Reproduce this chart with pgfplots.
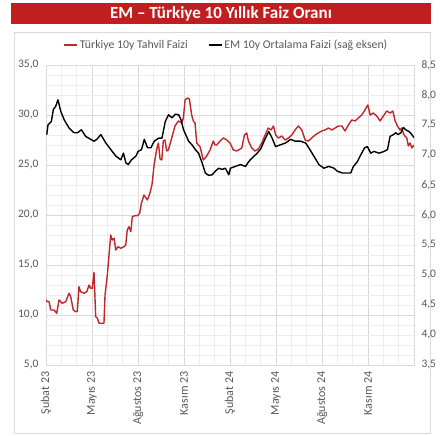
\documentclass[border=0pt]{standalone}
\usepackage{pgfplots}
\pgfplotsset{compat=1.18}
\usepackage{fontspec}
\setmainfont{Carlito}
\definecolor{emred}{HTML}{C0262B}
\definecolor{banner}{HTML}{C11F1F}
\definecolor{txtgray}{HTML}{595959}
\definecolor{gmaj}{HTML}{D9D9D9}
\definecolor{gmin}{HTML}{EDEDED}
\begin{document}
\begin{tikzpicture}[x=1pt,y=1pt]
\path[fill=white] (0,0) rectangle (443,435);
\fill[banner] (11,411) rectangle (431,432);
\node[text=white,font=\fontsize{17}{19}\selectfont\bfseries] at (221,421.5) {EM – Türkiye 10 Yıllık Faiz Oranı};
\draw[gmaj,line width=0.8pt] (14,1.5) rectangle (430,403);
\begin{axis}[
  at={(46pt,70pt)}, anchor=south west,
  scale only axis, width=368pt, height=300pt,
  xmin=0, xmax=24, ymin=5, ymax=35,
  xtick={0,3,...,21},
  xticklabels={Şubat 23,Mayıs 23,Ağustos 23,Kasım 23,Şubat 24,Mayıs 24,Ağustos 24,Kasım 24},
  minor xtick={0,1,...,24},
  ytick={5,10,...,35},
  minor ytick={5,6,...,35},
  grid=both,
  major grid style={gmaj,line width=0.8pt},
  minor grid style={gmin,line width=0.7pt},
  major tick length=0pt, minor tick length=0pt,
  axis line style={gmaj,line width=0.8pt},
  tick label style={text=txtgray,font=\fontsize{11.5}{13}\selectfont},
  x tick label style={rotate=90,anchor=east,font=\fontsize{12}{13}\selectfont},
  xticklabel shift=3pt,
  yticklabel shift=4pt,
  /pgf/number format/.cd, fixed, fixed zerofill, precision=1, use comma, assume math mode=true,
  /pgfplots/.cd,
  legend columns=2,
  legend style={draw=none,fill=none,at={(0.49,1.067)},anchor=center,
    font=\fontsize{11.8}{13}\selectfont,text=txtgray,
    /tikz/every even column/.append style={column sep=18pt}},
  legend image code/.code={\draw[#1,line width=1.6pt] (0pt,0pt) -- (13pt,0pt);},
]
\addplot[emred,line width=1.4pt,line join=round] table {
x y
0 11.5
0.08 11.33
0.2 11.33
0.31 10.5
0.52 10.5
0.70 10.17
0.85 11.5
1.06 11.17
1.29 11.33
1.50 12.17
1.61 11.83
1.78 10.5
1.94 10.33
2.04 10.33
2.15 12.83
2.26 12.33
2.48 12.17
2.66 12.33
2.81 13.0
2.92 12.67
3.02 12.67
3.13 14.27
3.18 12.33
3.24 9.83
3.35 9.67
3.46 9.17
3.67 9.17
3.78 9.17
3.85 12.0
4.0 14.0
4.11 16.0
4.22 18.0
4.32 17.5
4.44 17.67
4.55 16.5
4.70 16.83
4.87 16.67
5.09 16.83
5.20 17.0
5.30 18.5
5.41 18.83
5.53 18.33
5.63 19.83
5.79 19.93
5.96 19.93
6.11 20.17
6.22 21.17
6.39 22.0
6.61 21.5
6.78 22.2
6.91 23.0
7.05 25.0
7.22 26.6
7.33 27.2
7.44 25.6
7.55 25.5
7.65 27.4
7.76 27.5
7.87 26.4
7.98 26.5
8.20 27.7
8.41 28.9
8.63 29.4
8.85 29.2
8.96 29.7
9.07 31.5
9.22 31.7
9.35 31.6
9.50 30.0
9.61 29.4
9.72 29.2
9.83 27.2
10.05 26.8
10.26 25.5
10.48 25.9
10.70 26.5
10.91 27.4
11.02 27.0
11.13 27.0
11.35 27.4
11.57 27.7
11.79 27.5
12.0 27.2
12.22 26.5
12.44 26.4
12.77 26.7
12.94 28.0
13.09 28.2
13.20 27.4
13.42 26.7
13.63 26.4
13.85 26.6
14.07 27.2
14.29 28.0
14.50 28.7
14.68 28.5
14.83 28.9
14.98 28.0
15.15 27.7
15.38 27.9
15.59 27.5
15.81 27.7
16.03 28.0
16.24 28.5
16.46 28.9
16.68 28.5
16.90 27.5
17.11 27.4
17.33 27.7
17.55 28.0
17.76 28.2
17.98 28.4
18.20 28.5
18.42 28.7
18.64 28.5
18.85 28.7
19.07 28.9
19.29 28.9
19.50 28.4
19.72 29.0
19.94 29.5
20.16 29.4
20.37 29.7
20.59 30.0
20.76 30.4
20.87 30.7
20.99 31.0
21.14 30.0
21.35 30.2
21.57 29.9
21.79 29.4
22.0 29.9
22.22 30.4
22.44 30.2
22.62 30.4
22.77 29.4
22.92 28.9
23.09 28.5
23.20 28.7
23.35 28.0
23.53 27.7
23.63 26.9
23.74 27.2
23.86 26.7
24.0 27.0
};
\addlegendentry{Türkiye 10y Tahvil Faizi}
\addlegendimage{black,line width=1.4pt}
\addlegendentry{EM 10y Ortalama Faizi (sağ eksen)}
\end{axis}
\begin{axis}[
  at={(46pt,70pt)}, anchor=south west,
  scale only axis, width=368pt, height=300pt,
  xmin=0, xmax=24, ymin=3.5, ymax=8.5,
  axis x line=none,
  axis y line*=right,
  axis line style={draw=none},
  ytick={3.5,4,...,8.5},
  major tick length=0pt,
  tick label style={text=txtgray,font=\fontsize{11.5}{13}\selectfont},
  yticklabel shift=4pt,
  /pgf/number format/.cd, fixed, fixed zerofill, precision=1, use comma, assume math mode=true,
]
\addplot[black,line width=1.4pt,line join=round] table {
x y
0.05 7.34
0.13 7.50
0.35 7.56
0.48 7.76
0.63 7.81
0.78 7.92
0.96 7.73
1.18 7.59
1.50 7.45
1.83 7.37
2.05 7.37
2.31 7.42
2.59 7.31
2.92 7.26
3.14 7.23
3.31 7.26
3.58 7.34
3.90 7.20
4.23 7.09
4.56 6.98
4.88 6.92
5.05 7.03
5.21 6.87
5.36 6.84
5.58 6.92
5.86 6.98
6.01 7.06
6.23 7.09
6.41 7.26
6.62 7.12
6.84 7.12
7.06 7.23
7.34 7.28
7.56 7.28
7.78 7.56
7.99 7.67
8.22 7.62
8.43 7.68
8.65 7.67
8.80 7.59
8.97 7.42
9.30 7.23
9.52 7.17
9.74 7.09
9.95 7.03
10.18 6.87
10.39 6.70
10.61 6.66
10.83 6.67
11.05 6.73
11.26 6.78
11.48 6.76
11.70 6.78
11.92 6.67
12.03 6.78
12.35 6.81
12.68 6.84
13.01 6.81
13.22 6.89
13.44 6.95
13.77 7.03
14.0 7.10
14.31 7.28
14.53 7.39
14.75 7.28
14.97 7.14
15.29 7.17
15.62 7.20
15.95 7.26
16.27 7.23
16.60 7.23
16.93 7.20
17.14 7.12
17.47 6.98
17.80 6.84
18.12 6.78
18.45 6.81
18.78 6.78
19.0 6.73
19.33 6.70
19.65 6.70
19.87 6.70
20.05 6.81
20.31 6.89
20.52 7.0
20.78 7.12
20.96 7.14
21.18 7.03
21.39 7.06
21.72 7.03
22.05 7.06
22.27 7.09
22.44 7.31
22.66 7.34
22.81 7.37
22.96 7.34
23.14 7.37
23.31 7.46
23.46 7.42
23.68 7.39
23.86 7.34
24.0 7.29
};
\end{axis}
\end{tikzpicture}
\end{document}
